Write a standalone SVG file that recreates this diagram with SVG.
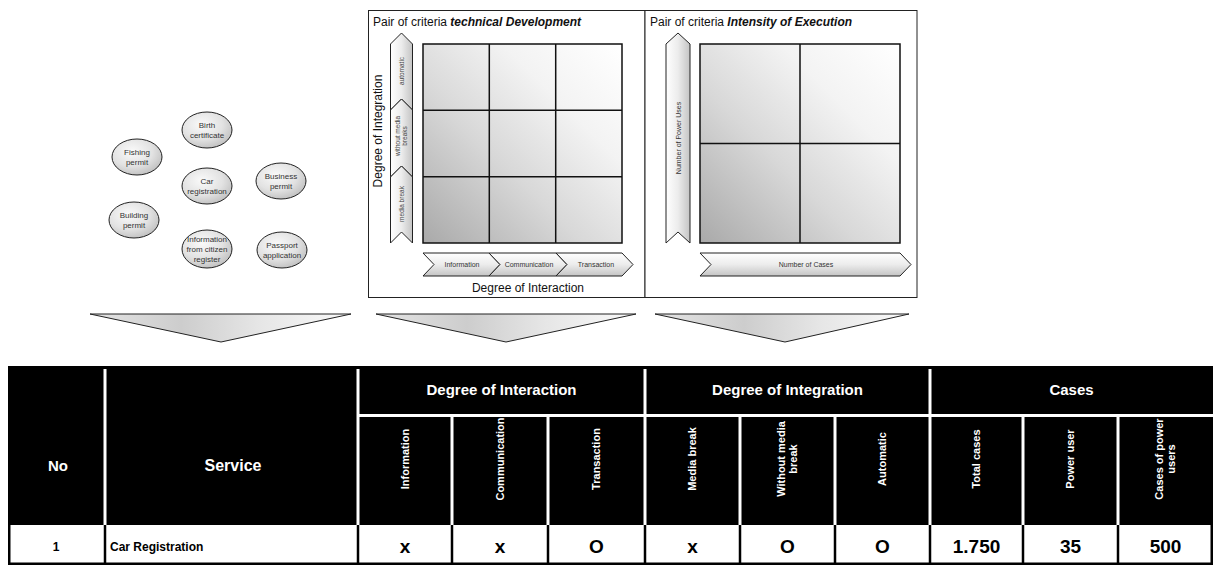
<svg xmlns="http://www.w3.org/2000/svg" width="1213" height="565" viewBox="0 0 1213 565">
<style>
text{font-family:"Liberation Sans",Arial,sans-serif}
.el ellipse{fill:url(#ellG);stroke:#222;stroke-width:1}
.el text{font-size:8px;fill:#333;text-anchor:middle}
.panel{fill:#fff;stroke:#222;stroke-width:1}
.grid{fill:none;stroke:#111;stroke-width:1.5}
.chv{fill:url(#vG);stroke:#222;stroke-width:1}
.chh{fill:url(#hG);stroke:#222;stroke-width:1}
.small{font-size:6.5px;fill:#444;text-anchor:middle}
.lbl{font-size:7px;fill:#333;text-anchor:middle}
.axis{font-size:12px;fill:#111;text-anchor:middle}
.title{font-size:12px;fill:#111}
.tri{fill:url(#tG);stroke:#222;stroke-width:1}
.hw{fill:#fff;font-weight:bold;text-anchor:middle}
.wl{stroke:#fff;stroke-width:3}
.bl{stroke:#000;stroke-width:2.5}
.val{font-weight:bold;font-size:19px;text-anchor:middle;fill:#000}
</style>
<defs>
<radialGradient id="ellG" cx="0.4" cy="0.35" r="0.75">
<stop offset="0" stop-color="#fafafa"/><stop offset="0.55" stop-color="#e2e2e2"/><stop offset="1" stop-color="#b8b8b8"/>
</radialGradient>
<linearGradient id="gridG" x1="0" y1="1" x2="1" y2="0">
<stop offset="0" stop-color="#a9a9a9"/><stop offset="0.4" stop-color="#d8d8d8"/><stop offset="0.7" stop-color="#f3f3f3"/><stop offset="1" stop-color="#ffffff"/>
</linearGradient>
<linearGradient id="hG" x1="0" y1="0" x2="0" y2="1">
<stop offset="0" stop-color="#ffffff"/><stop offset="0.5" stop-color="#ececec"/><stop offset="1" stop-color="#c4c4c4"/>
</linearGradient>
<linearGradient id="vG" x1="0" y1="0" x2="1" y2="0">
<stop offset="0" stop-color="#ffffff"/><stop offset="0.5" stop-color="#ececec"/><stop offset="1" stop-color="#c4c4c4"/>
</linearGradient>
<linearGradient id="tG" x1="0" y1="0" x2="1" y2="0">
<stop offset="0" stop-color="#e4e4e4"/><stop offset="0.35" stop-color="#cdcdcd"/><stop offset="0.65" stop-color="#e6e6e6"/><stop offset="1" stop-color="#fafafa"/>
</linearGradient>
</defs>

<g id="services">
<g id="n-birth" class="el"><ellipse cx="207" cy="130" rx="25" ry="18"/><text x="207" y="128">Birth</text><text x="207" y="138">certificate</text></g>
<g id="n-fishing" class="el"><ellipse cx="137" cy="157" rx="25" ry="18"/><text x="137" y="155">Fishing</text><text x="137" y="165">permit</text></g>
<g id="n-car" class="el"><ellipse cx="207" cy="186" rx="25" ry="18"/><text x="207" y="184">Car</text><text x="207" y="194">registration</text></g>
<g id="n-business" class="el"><ellipse cx="281" cy="181" rx="25" ry="18"/><text x="281" y="179">Business</text><text x="281" y="189">permit</text></g>
<g id="n-building" class="el"><ellipse cx="134" cy="220" rx="25" ry="18"/><text x="134" y="218">Building</text><text x="134" y="228">permit</text></g>
<g id="n-info" class="el"><ellipse cx="207" cy="249" rx="25" ry="19"/><text x="207" y="242">Information</text><text x="207" y="252">from citizen</text><text x="207" y="262">register</text></g>
<g id="n-passport" class="el"><ellipse cx="282" cy="250" rx="25" ry="18"/><text x="282" y="248">Passport</text><text x="282" y="258">application</text></g>
</g>

<g id="matrix-technical">
<rect class="panel" x="368.5" y="10.5" width="276.5" height="287"/>
<text class="title" x="373" y="26">Pair of criteria <tspan font-weight="bold" font-style="italic">technical Development</tspan></text>
<rect x="423" y="44" width="199" height="199" fill="url(#gridG)"/>
<path class="grid" d="M423,44H622V243H423Z M489.3,44V243 M555.7,44V243 M423,110.3H622 M423,176.7H622"/>
<path class="chv" d="M401.5,33L412.5,44V110L401.5,99L390.5,110V44Z"/>
<path class="chv" d="M401.5,99L412.5,110V177L401.5,166L390.5,177V110Z"/>
<path class="chv" d="M401.5,166L412.5,177V243L401.5,232L390.5,243V177Z"/>
<text class="small" transform="translate(404,71) rotate(-90)">automatic</text>
<text class="small" transform="translate(400,136) rotate(-90)">without media</text>
<text class="small" transform="translate(407,136) rotate(-90)">breaks</text>
<text class="small" transform="translate(404,204) rotate(-90)">media break</text>
<text class="axis" transform="translate(382,131) rotate(-90)">Degree of Integration</text>
<path class="chh" d="M423,253H489L500,264.5L489,276H423L434,264.5Z"/>
<path class="chh" d="M489,253H556L567,264.5L556,276H489L500,264.5Z"/>
<path class="chh" d="M556,253H622L633,264.5L622,276H556L567,264.5Z"/>
<text class="lbl" x="462" y="267">Information</text>
<text class="lbl" x="529" y="267">Communication</text>
<text class="lbl" x="596" y="267">Transaction</text>
<text class="axis" x="528" y="292">Degree of Interaction</text>
</g>

<g id="matrix-intensity">
<rect class="panel" x="645" y="10.5" width="272" height="287"/>
<text class="title" x="650" y="26">Pair of criteria <tspan font-weight="bold" font-style="italic">Intensity of Execution</tspan></text>
<rect x="700" y="44" width="200" height="199" fill="url(#gridG)"/>
<path class="grid" d="M700,44H900V243H700Z M800,44V243 M700,143.5H900"/>
<path class="chv" d="M678,33L690,44V243L678,232L666,243V44Z"/>
<text class="lbl" font-size="7.5" transform="translate(680.5,138) rotate(-90)">Number of Power Uses</text>
<path class="chh" d="M700,253H900L911,264.5L900,276H700L711,264.5Z"/>
<text class="lbl" x="806" y="267">Number of Cases</text>
</g>

<g id="connectors">
<polygon class="tri" points="90,314 351,314 221,342"/>
<polygon class="tri" points="376,314 636,314 506,342"/>
<polygon class="tri" points="655,314 909,314 785,342"/>
</g>

<g id="table">
<rect x="8" y="366" width="1205" height="159" fill="#000"/>
<rect x="8" y="525" width="1204" height="39" fill="#fff"/>
<g>
<line class="wl" x1="105" y1="369" x2="105" y2="525"/>
<line class="wl" x1="358" y1="369" x2="358" y2="525"/>
<line class="wl" x1="645" y1="369" x2="645" y2="525"/>
<line class="wl" x1="930" y1="369" x2="930" y2="525"/>
<line class="wl" x1="358" y1="415.5" x2="1213" y2="415.5"/>
<line class="wl" x1="452" y1="415" x2="452" y2="525"/>
<line class="wl" x1="548" y1="415" x2="548" y2="525"/>
<line class="wl" x1="740" y1="415" x2="740" y2="525"/>
<line class="wl" x1="835" y1="415" x2="835" y2="525"/>
<line class="wl" x1="1023" y1="415" x2="1023" y2="525"/>
<line class="wl" x1="1118" y1="415" x2="1118" y2="525"/>
</g>
<text class="hw" x="58" y="471" font-size="15">No</text>
<text class="hw" x="233" y="471" font-size="16">Service</text>
<text class="hw" x="501.5" y="395" font-size="15">Degree of Interaction</text>
<text class="hw" x="787.5" y="395" font-size="15">Degree of Integration</text>
<text class="hw" x="1071.5" y="395" font-size="15">Cases</text>
<g font-size="11">
<text class="hw" transform="translate(409,459) rotate(-90)">Information</text>
<text class="hw" transform="translate(504,459) rotate(-90)">Communication</text>
<text class="hw" transform="translate(600,459) rotate(-90)">Transaction</text>
<text class="hw" transform="translate(696,459) rotate(-90)">Media break</text>
<text class="hw" transform="translate(785,459) rotate(-90)">Without media</text>
<text class="hw" transform="translate(797,459) rotate(-90)">break</text>
<text class="hw" transform="translate(886,459) rotate(-90)">Automatic</text>
<text class="hw" transform="translate(980,459) rotate(-90)">Total cases</text>
<text class="hw" transform="translate(1074,459) rotate(-90)">Power user</text>
<text class="hw" transform="translate(1163,459) rotate(-90)">Cases of power</text>
<text class="hw" transform="translate(1175,459) rotate(-90)">users</text>
</g>
<g>
<line class="bl" x1="9.25" y1="525" x2="9.25" y2="565"/>
<line class="bl" x1="105" y1="525" x2="105" y2="565"/>
<line class="bl" x1="358" y1="525" x2="358" y2="565"/>
<line class="bl" x1="452" y1="525" x2="452" y2="565"/>
<line class="bl" x1="548" y1="525" x2="548" y2="565"/>
<line class="bl" x1="645" y1="525" x2="645" y2="565"/>
<line class="bl" x1="740" y1="525" x2="740" y2="565"/>
<line class="bl" x1="835" y1="525" x2="835" y2="565"/>
<line class="bl" x1="930" y1="525" x2="930" y2="565"/>
<line class="bl" x1="1023" y1="525" x2="1023" y2="565"/>
<line class="bl" x1="1118" y1="525" x2="1118" y2="565"/>
<line class="bl" x1="1211.75" y1="525" x2="1211.75" y2="565"/>
<line class="bl" x1="8" y1="563.75" x2="1213" y2="563.75"/>
</g>
<text x="56" y="551" font-size="12" font-weight="bold" text-anchor="middle">1</text>
<text x="110" y="551" font-size="12" font-weight="bold">Car Registration</text>
<text class="val" x="405" y="553">x</text>
<text class="val" x="500" y="553">x</text>
<text class="val" x="596.5" y="553">O</text>
<text class="val" x="692.5" y="553">x</text>
<text class="val" x="787.5" y="553">O</text>
<text class="val" x="882.5" y="553">O</text>
<text class="val" x="976.5" y="553">1.750</text>
<text class="val" x="1070.5" y="553">35</text>
<text class="val" x="1165.5" y="553">500</text>
</g>
</svg>
